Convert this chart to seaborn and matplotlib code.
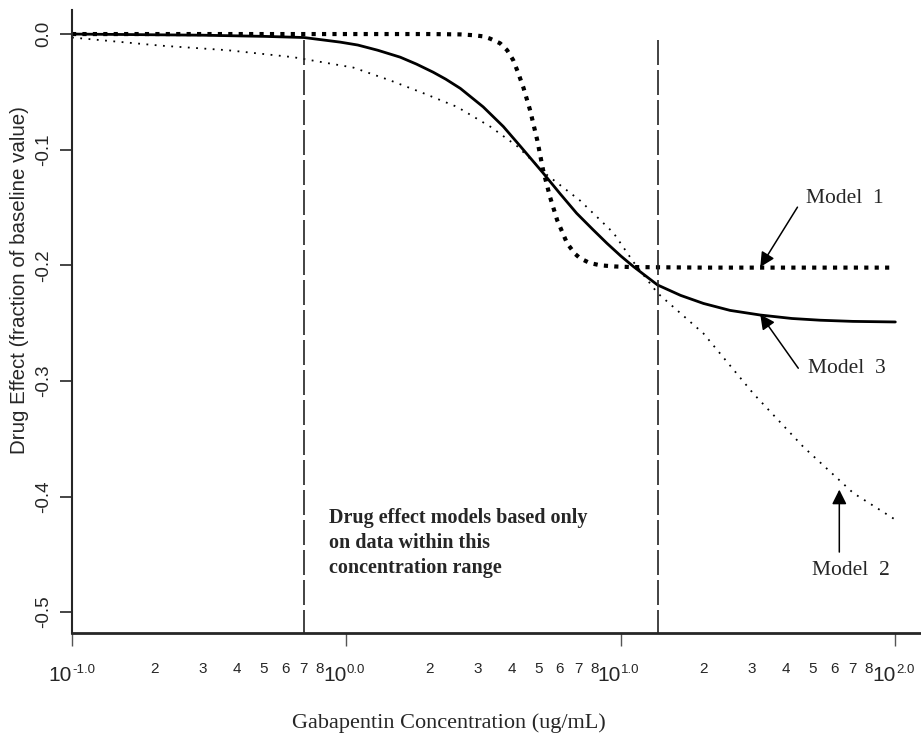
import matplotlib
matplotlib.use("Agg")
import matplotlib.pyplot as plt
import matplotlib.transforms as mtransforms
import seaborn as sns
import pandas as pd

# --- Data ---
model1_conc = [0.1, 1.0, 2.0, 2.6, 2.9, 3.15, 3.34, 3.63, 3.85, 4.05, 4.2, 4.41, 4.67, 4.96,
               5.21, 5.52, 5.86, 6.37, 6.8, 7.11, 7.7, 8.41, 9.5, 10.8, 20.0, 50.0, 100.0]
model1_effect = [0.0, 0.0, 0.0, -0.0003, -0.001, -0.002, -0.004, -0.008, -0.014, -0.0225,
                 -0.032, -0.046, -0.066, -0.092, -0.118, -0.141, -0.161, -0.181, -0.190,
                 -0.194, -0.198, -0.200, -0.201, -0.2015, -0.202, -0.202, -0.202]

model2_conc = [0.1, 0.21, 0.37, 0.64, 1.06, 1.44, 1.9, 2.53, 3.34, 4.19, 5.39, 7.1, 9.4,
               11.1, 13.6, 20.0, 30.4, 46.2, 70.3, 100.0]
model2_effect = [-0.003, -0.010, -0.014, -0.020, -0.029, -0.040, -0.051, -0.063, -0.080,
                 -0.097, -0.122, -0.144, -0.172, -0.197, -0.224, -0.259, -0.311, -0.357,
                 -0.397, -0.420]

model3_conc = [0.1, 0.3, 0.5, 0.7, 0.95, 1.1, 1.3, 1.57, 1.8, 2.07, 2.3, 2.6, 3.15, 3.73,
               4.3, 5.2, 6.0, 6.9, 7.9, 8.9, 10.0, 11.1, 13.6, 16.5, 20.0, 25.0, 32.2, 42.0,
               53.3, 70.0, 100.0]
model3_effect = [0.0, -0.001, -0.002, -0.003, -0.007, -0.0095, -0.014, -0.020, -0.026,
                 -0.033, -0.039, -0.047, -0.063, -0.080, -0.097, -0.120, -0.138, -0.155,
                 -0.169, -0.181, -0.192, -0.201, -0.217, -0.226, -0.233, -0.239, -0.243,
                 -0.246, -0.2475, -0.2485, -0.249]

range_bounds = [0.7, 13.6]

y_ticks = [0.0, -0.1, -0.2, -0.3, -0.4, -0.5]
y_ticklabels = ["0.0", "-0.1", "-0.2", "-0.3", "-0.4", "-0.5"]
x_major = [0.1, 1.0, 10.0, 100.0]
x_major_exps = ["-1.0", "0.0", "1.0", "2.0"]
minor_digits = [2, 3, 4, 5, 6, 7, 8]
decades = [0.1, 1.0, 10.0]

# --- Style ---
sns.set_style("ticks")
plt.rcParams["font.family"] = ["Liberation Sans", "DejaVu Sans"]

W, H = 921, 737
fig = plt.figure(figsize=(W / 100, H / 100), dpi=100)
ax = fig.add_axes([72 / W, 104 / H, 848 / W, 623 / H])

df1 = pd.DataFrame({"conc": model1_conc, "effect": model1_effect})
df2 = pd.DataFrame({"conc": model2_conc, "effect": model2_effect})
df3 = pd.DataFrame({"conc": model3_conc, "effect": model3_effect})

sns.lineplot(data=df3, x="conc", y="effect", ax=ax, color="black", lw=2.0,
             solid_capstyle="round", solid_joinstyle="round")
sns.lineplot(data=df2, x="conc", y="effect", ax=ax, color="black", lw=1.3,
             linestyle=(0, (1, 3.6)))
sns.lineplot(data=df1, x="conc", y="effect", ax=ax, color="black", lw=3.0,
             linestyle=(0, (1, 1.5)))

ax.vlines(range_bounds, ymin=-0.52, ymax=-0.002, colors="#222222", lw=1.2,
          linestyles=[(0, (15, 3))])

ax.set_xscale("log")
ax.set_xlim(0.1, 123)
ax.set_ylim(-0.518, 0.0208)

for side in ["top", "right"]:
    ax.spines[side].set_visible(False)
ax.spines["left"].set_linewidth(1.5)
ax.spines["bottom"].set_linewidth(2.0)

# major labels: "10" ending at each decade tick, exponent as a small superscript
ax.set_xticks(x_major)
ax.set_xticklabels(["10"] * len(x_major), fontsize=15, ha="right")
minor_pos = [d * m for d in decades for m in minor_digits]
minor_lab = [str(m) for d in decades for m in minor_digits]
ax.set_xticks(minor_pos, minor=True)
ax.set_xticklabels(minor_lab, minor=True, fontsize=11)
ax.tick_params(axis="x", which="major", length=9, width=1, pad=14.5, color="#555555")
ax.tick_params(axis="x", which="minor", length=0, pad=21)

shift = mtransforms.ScaledTranslation(0.5 / 100, 0, fig.dpi_scale_trans)
sup_trans = mtransforms.blended_transform_factory(ax.transData, ax.transAxes) + shift
for xv, ex in zip(x_major, x_major_exps):
    ax.text(xv, -0.059, ex, transform=sup_trans, ha="left", va="center",
            fontsize=9.5, clip_on=False)

ax.set_yticks(y_ticks)
ax.set_yticklabels(y_ticklabels, rotation=90, va="center", fontsize=13.5)
ax.tick_params(axis="y", length=9, width=1.2, pad=5)
ax.set_xlabel("")
ax.set_ylabel("")

fig.text(20 / W, 1 - 280 / H, "Drug Effect (fraction of baseline value)", rotation=90,
         ha="center", va="center", fontsize=14.8)
fig.text(449 / W, 1 - 723 / H, "Gabapentin Concentration (ug/mL)", ha="center",
         va="center", fontsize=16, family="Liberation Serif")

ax.text(0.865, -0.41, "Drug effect models based only\non data within this\nconcentration range",
        ha="left", va="top", fontsize=14.5, fontweight="bold", family="Liberation Serif",
        linespacing=1.33)

arrow = dict(arrowstyle="-|>", color="black", lw=1.1, mutation_scale=22,
             shrinkA=0, shrinkB=0)
ax.annotate("", xy=(32.2, -0.2015), xytext=(44.0, -0.1497), arrowprops=arrow)
ax.text(47.4, -0.142, "Model  1", ha="left", va="center", fontsize=15.5,
        family="Liberation Serif")
ax.annotate("", xy=(32.2, -0.2425), xytext=(44.3, -0.289), arrowprops=arrow)
ax.text(48.2, -0.289, "Model  3", ha="left", va="center", fontsize=15.5,
        family="Liberation Serif")
ax.annotate("", xy=(62.5, -0.394), xytext=(62.5, -0.448), arrowprops=arrow)
ax.text(68.6, -0.4637, "Model  2", ha="center", va="center", fontsize=15.5,
        family="Liberation Serif")

fig.savefig("out.png", dpi=100)
